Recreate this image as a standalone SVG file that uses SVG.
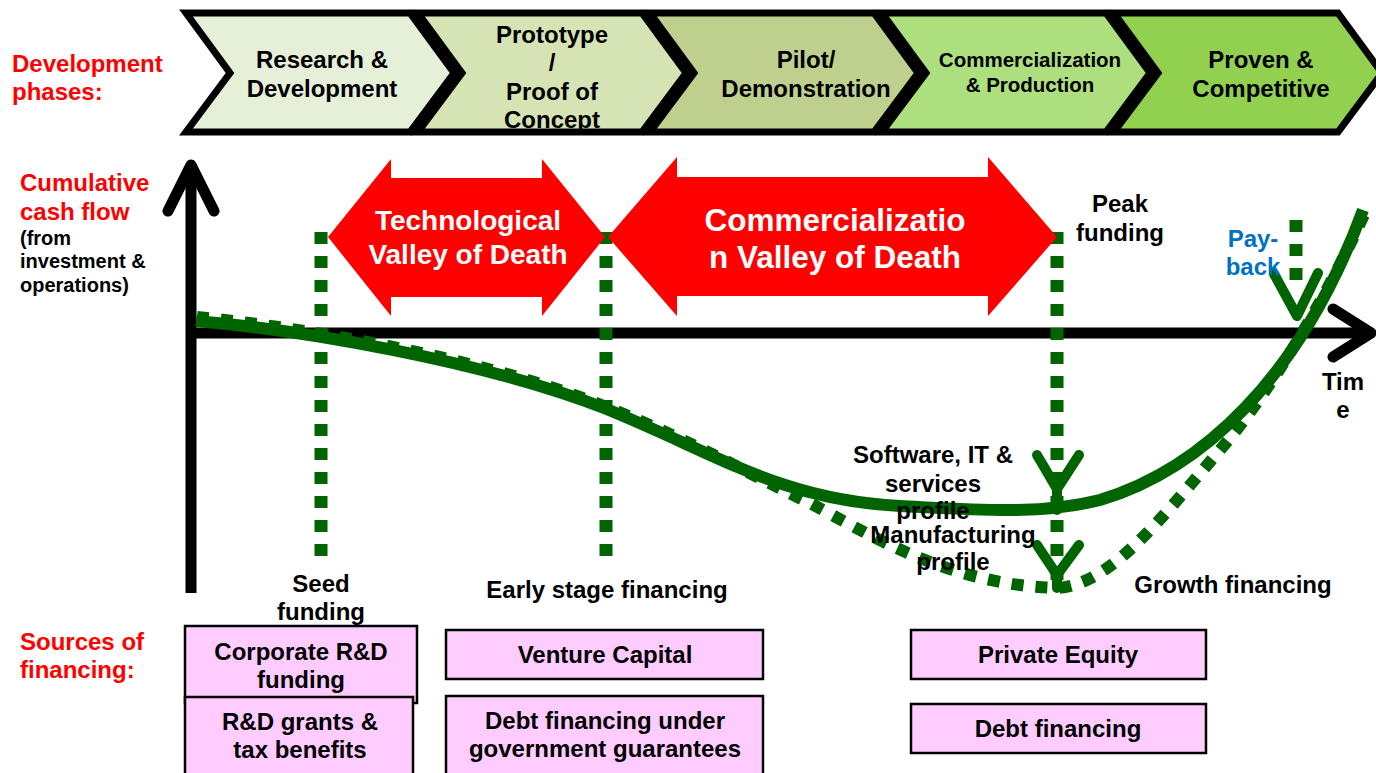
<svg xmlns="http://www.w3.org/2000/svg" width="1376" height="773" viewBox="0 0 1376 773">
<defs>
<style>
text{font-family:"Liberation Sans",Arial,sans-serif;font-weight:bold;font-size:24px;fill:#000;text-anchor:middle}
.red{fill:#ff0000;text-anchor:start}
.note{font-size:20px;text-anchor:start}
.chev{stroke:#000;stroke-width:7;stroke-linejoin:miter}
.wt{fill:#fff}
.blue{fill:#0070c0}
.box{fill:#ffccff;stroke:#000;stroke-width:2.5}
.axis{stroke:#000;stroke-width:11;fill:none;stroke-linecap:round;stroke-linejoin:round}
.dot{stroke:#006400;stroke-width:13;stroke-dasharray:12 12;fill:none}
.curve{stroke:#006400;stroke-width:12;fill:none}
.dcurve{stroke:#006400;stroke-width:12;stroke-dasharray:12 12;fill:none}
.ar{stroke:#006400;stroke-width:10;fill:none;stroke-linecap:round;stroke-linejoin:round}
.vod{fill:#ff0000}
</style>
</defs>
<rect width="1376" height="773" fill="#fff"/>

<!-- Left labels -->
<g id="label-phases">
<text class="red" x="12" y="72">Development</text>
<text class="red" x="12" y="100">phases:</text>
</g>
<g id="label-cashflow">
<text class="red" x="20" y="191">Cumulative</text>
<text class="red" x="20" y="220">cash flow</text>
<text class="note" x="20" y="245">(from</text>
<text class="note" x="20" y="268">investment &amp;</text>
<text class="note" x="20" y="292">operations)</text>
</g>
<g id="label-sources">
<text class="red" x="20" y="650">Sources of</text>
<text class="red" x="20" y="678">financing:</text>
</g>

<!-- Chevrons -->
<g id="phase-rd">
<polygon class="chev" fill="#e6efd8" points="186,13 410,13 454,73 410,132 186,132 230,73"/>
<text x="322" y="68">Research &amp;</text>
<text x="322" y="97">Development</text>
</g>
<g id="phase-prototype">
<polygon class="chev" fill="#d6e3b5" points="418,13 642,13 686,73 642,132 418,132 462,73"/>
<text x="552" y="43">Prototype</text>
<text x="552" y="71">/</text>
<text x="552" y="100">Proof of</text>
<text x="552" y="128">Concept</text>
</g>
<g id="phase-pilot">
<polygon class="chev" fill="#bfd08e" points="650,13 874,13 918,73 874,132 650,132 694,73"/>
<text x="806" y="68">Pilot/</text>
<text x="806" y="97">Demonstration</text>
</g>
<g id="phase-commercialization">
<polygon class="chev" fill="#addf7f" points="882,13 1106,13 1150,73 1106,132 882,132 926,73"/>
<text x="1030" y="67" style="font-size:20.5px">Commercialization</text>
<text x="1030" y="92" style="font-size:20.5px">&amp; Production</text>
</g>
<g id="phase-proven">
<polygon class="chev" fill="#92d050" points="1114,13 1338,13 1382,73 1338,132 1114,132 1158,73"/>
<text x="1261" y="68">Proven &amp;</text>
<text x="1261" y="97">Competitive</text>
</g>

<!-- Connectors: axes, dotted markers, profile curves -->
<g id="connectors">
<polyline class="axis" points="168,211 191,165 214,211"/>
<line class="axis" x1="191" y1="168" x2="191" y2="593" style="stroke-linecap:butt"/>
<line class="axis" x1="186" y1="333" x2="1368" y2="333" style="stroke-linecap:butt"/>
<polyline class="axis" points="1333,309 1371,333 1333,357"/>

<line class="dot" x1="321" y1="232" x2="321" y2="560"/>
<line class="dot" x1="606" y1="232" x2="606" y2="560"/>
<line class="dot" x1="1057" y1="232" x2="1057" y2="588"/>
<line class="dot" x1="1296" y1="220" x2="1296" y2="282"/>

<path class="dcurve" d="M197,317 C300,327 480,357 604,406 C700,444 760,480 810,503 C870,535 950,585 1057,588 C1110,585 1160,520 1220,450 C1280,380 1335,280 1367,208"/>
<path class="curve" d="M196,321 C300,330 480,360 604,408 C720,455 780,500 900,506 C980,510 1040,515 1100,500 C1200,470 1300,380 1363,210"/>

<polyline class="ar" points="1037,455 1057,489 1079,455"/>
<line class="ar" x1="1057" y1="489" x2="1057" y2="510"/>
<polyline class="ar" points="1037,545 1057,575 1079,545"/>
<line class="ar" x1="1057" y1="575" x2="1057" y2="588"/>
<polyline class="ar" points="1274,274 1297,316 1318,273"/>
</g>

<!-- Valleys of death -->
<g id="tech-valley">
<polygon class="vod" points="328,237 391,159 391,178 542,178 542,159 605,237 542,316 542,297 391,297 391,316"/>
<text class="wt" x="468" y="230" style="font-size:28px">Technological</text>
<text class="wt" x="468" y="264" style="font-size:28px">Valley of Death</text>
</g>
<g id="commercial-valley">
<polygon class="vod" points="608,237 677,157 677,177 988,177 988,157 1057,237 988,316 988,296 677,296 677,316"/>
<text class="wt" x="835" y="231" style="font-size:31.5px">Commercializatio</text>
<text class="wt" x="835" y="268" style="font-size:31.5px">n Valley of Death</text>
</g>

<!-- Curve / marker labels -->
<g id="peak-funding">
<text x="1120" y="212">Peak</text>
<text x="1120" y="241">funding</text>
</g>
<g id="payback">
<text class="blue" x="1253" y="247">Pay-</text>
<text class="blue" x="1253" y="275">back</text>
</g>
<g id="time-label">
<text x="1343" y="390">Tim</text>
<text x="1343" y="418">e</text>
</g>
<g id="software-profile">
<text x="933" y="463">Software, IT &amp;</text>
<text x="933" y="492">services</text>
<text x="933" y="519">profile</text>
</g>
<g id="manufacturing-profile">
<text x="953" y="543">Manufacturing</text>
<text x="953" y="570">profile</text>
</g>
<g id="seed-funding">
<text x="321" y="592">Seed</text>
<text x="321" y="620">funding</text>
</g>
<g id="early-stage">
<text x="607" y="598">Early stage financing</text>
</g>
<g id="growth-financing">
<text x="1233" y="593">Growth financing</text>
</g>

<!-- Financing boxes -->
<g id="box-corporate-rd">
<rect class="box" x="185" y="626" width="232" height="77"/>
<text x="301" y="660">Corporate R&amp;D</text>
<text x="301" y="688">funding</text>
</g>
<g id="box-grants">
<rect class="box" x="185" y="697" width="228" height="80"/>
<text x="300" y="730">R&amp;D grants &amp;</text>
<text x="300" y="758">tax benefits</text>
</g>
<g id="box-vc">
<rect class="box" x="446" y="630" width="317" height="49"/>
<text x="605" y="663">Venture Capital</text>
</g>
<g id="box-debt-guarantees">
<rect class="box" x="446" y="696" width="317" height="81"/>
<text x="605" y="729">Debt financing under</text>
<text x="605" y="757">government guarantees</text>
</g>
<g id="box-pe">
<rect class="box" x="911" y="630" width="295" height="49"/>
<text x="1058" y="663">Private Equity</text>
</g>
<g id="box-debt">
<rect class="box" x="911" y="704" width="295" height="49"/>
<text x="1058" y="737">Debt financing</text>
</g>
</svg>
